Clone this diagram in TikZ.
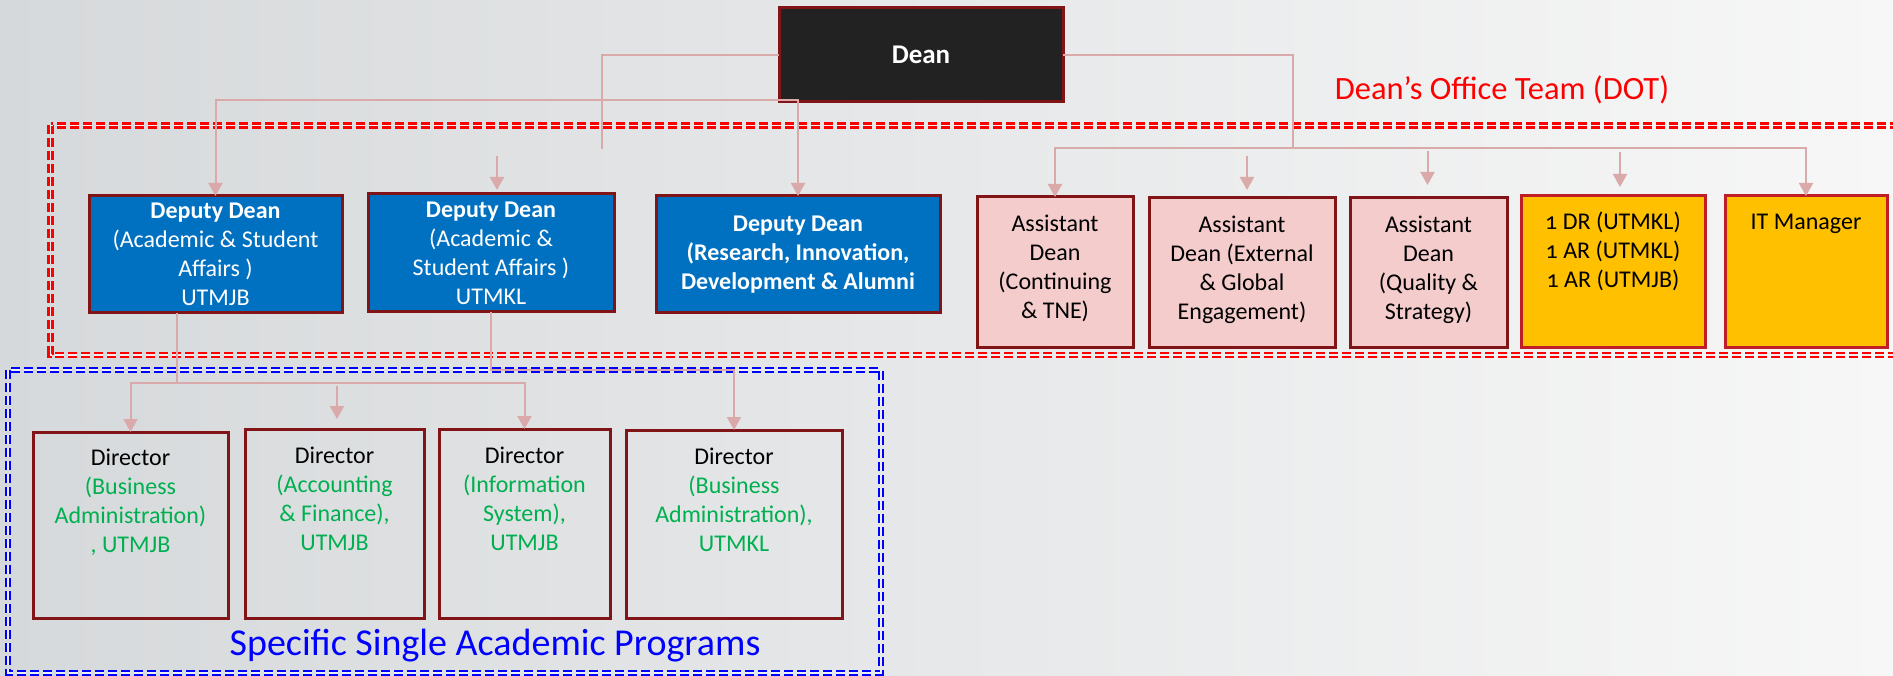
\documentclass[tikz,border=0pt]{standalone}
\usepackage{fontspec}
\setmainfont{Carlito}
\newfontfamily\osfont[Numbers=OldStyle]{Carlito}
\usetikzlibrary{arrows.meta}
\definecolor{bgL}{RGB}{214,217,219}
\definecolor{bgR}{RGB}{247,247,247}
\definecolor{bgmid}{RGB}{238,239,240}
\definecolor{bord}{RGB}{128,20,22}
\definecolor{yelbord}{RGB}{192,30,38}
\definecolor{ddblue}{RGB}{0,112,192}
\definecolor{adpink}{RGB}{244,204,204}
\definecolor{yel}{RGB}{255,192,0}
\definecolor{conn}{RGB}{218,170,170}
\definecolor{grn}{RGB}{0,176,80}
\definecolor{dotred}{RGB}{255,0,0}
\definecolor{ssblue}{RGB}{0,0,255}
\definecolor{deanfill}{RGB}{34,34,34}
\newcommand{\gtxt}[1]{\textcolor{grn}{#1}}
\tikzset{
  boxbase/.style={draw=bord, line width=3pt, inner sep=0pt, outer sep=0pt, anchor=north west, align=center,
    font=\fontsize{24}{29}\selectfont},
  deanbox/.style={boxbase, fill=deanfill, text=white, font=\fontsize{27}{32}\selectfont\bfseries},
  ddbox/.style={boxbase, fill=ddblue, text=white},
  adbox/.style={boxbase, fill=adpink},
  ylbox/.style={boxbase, draw=yelbord, fill=yel},
  dirbox/.style={boxbase},
  boxtext/.style={anchor=north, inner sep=0pt, align=center, font=\fontsize{24}{29}\selectfont},
  cline/.style={draw=conn, line width=2pt},
  arr/.tip={Triangle[length=13pt,width=14pt]},
  dblred/.style={draw=dotred, line width=2.6pt, double=bgmid, double distance=1.6pt, dash pattern=on 9pt off 4pt},
  dblblue/.style={draw=ssblue, line width=2.6pt, double=bgmid, double distance=1.6pt, dash pattern=on 9pt off 4pt},
}
\begin{document}
\begin{tikzpicture}[x=1pt,y=-1pt]
\useasboundingbox (0,0) rectangle (1893,676);
\clip (0,0) rectangle (1893,676);
\shade[left color=bgL, right color=bgR] (0,0) rectangle (1893,676);

% team frames
\draw[dblred] (50.5,125.5) rectangle (1915,355);
\draw[dblblue] (8,370) rectangle (881,673);

% boxes
\node[deanbox, minimum width=284pt, minimum height=94pt] (dean) at (779,8) {Dean};

\node[ddbox, minimum width=253pt, minimum height=117pt] (dd1) at (89,196)
  {\textbf{Deputy Dean}\\(Academic \& Student\\Affairs )\\UTMJB};
\node[ddbox, minimum width=246pt, minimum height=118pt] (dd2) at (368,194)
  {\textbf{Deputy Dean}\\(Academic \&\\Student Affairs )\\UTMKL};
\node[ddbox, minimum width=284pt, minimum height=117pt, font=\fontsize{24}{29}\selectfont\bfseries] (dd3) at (656,196)
  {Deputy Dean\\(Research, Innovation,\\Development \& Alumni};

\node[adbox, minimum width=156pt, minimum height=150pt] (ad1) at (977,197) {};
\node[adbox, minimum width=186pt, minimum height=149pt] (ad2) at (1149,198) {};
\node[adbox, minimum width=157pt, minimum height=149pt] (ad3) at (1350,198) {};
\node[ylbox, minimum width=184pt, minimum height=151pt] (yl) at (1521,196) {};
\node[ylbox, minimum width=162pt, minimum height=151pt] (it) at (1725,196) {};

\node[boxtext] (ad1t) at ([yshift=-18pt]ad1.north) {Assistant\\Dean\\(Continuing\\\& TNE)};
\node[boxtext] (ad2t) at ([yshift=-18pt]ad2.north) {Assistant\\Dean (External\\\& Global\\Engagement)};
\node[boxtext] (ad3t) at ([yshift=-18pt]ad3.north) {Assistant\\Dean\\(Quality \&\\Strategy)};
\node[boxtext] (ylt) at ([yshift=-15.5pt]yl.north) {{\osfont 1} DR (UTMKL)\\{\osfont 1} AR (UTMKL)\\{\osfont 1} AR (UTMJB)};
\node[boxtext] (itt) at ([yshift=-17.5pt]it.north) {IT Manager};

\node[dirbox, minimum width=195pt, minimum height=186pt] (d1) at (33,432) {};
\node[dirbox, minimum width=179pt, minimum height=189pt] (d2) at (245,429) {};
\node[dirbox, minimum width=171pt, minimum height=189pt] (d3) at (439,429) {};
\node[dirbox, minimum width=216pt, minimum height=188pt] (d4) at (626,430) {};

\node[boxtext] (d1t) at ([yshift=-17pt]d1.north) {Director\\\gtxt{(Business}\\\gtxt{Administration)}\\\gtxt{, UTMJB}};
\node[boxtext] (d2t) at ([yshift=-18pt]d2.north) {Director\\\gtxt{(Accounting}\\\gtxt{\& Finance),}\\\gtxt{UTMJB}};
\node[boxtext] (d3t) at ([yshift=-18pt]d3.north) {Director\\\gtxt{(Information}\\\gtxt{System),}\\\gtxt{UTMJB}};
\node[boxtext] (d4t) at ([yshift=-17.5pt]d4.north) {Director\\\gtxt{(Business}\\\gtxt{Administration),}\\\gtxt{UTMKL}};

% connectors from the dean
\coordinate (jL) at (602,149);
\coordinate (hy) at (0,100);
\coordinate (jR) at (1293,148);
\draw[cline] (dean.west) -| (jL);
\draw[cline, arr-arr] (dd1.north) |- (hy -| dd3.north) -- (dd3.north);
\draw[cline] (dean.east) -| (jR);
\draw[cline, arr-arr] (ad1.north) |- (it.north |- jR) -- (it.north);

% loose arrows
\coordinate (dd2s) at (497,156); \coordinate (dd2e) at (497,190);
\draw[cline, -arr] (dd2s) -- (dd2e);
\coordinate (ad2s) at (1247,156); \coordinate (ad2e) at (1247,190);
\draw[cline, -arr] (ad2s) -- (ad2e);
\coordinate (ad3s) at (1427.5,151); \coordinate (ad3e) at (1427.5,185);
\draw[cline, -arr] (ad3s) -- (ad3e);
\coordinate (yls) at (1620,152); \coordinate (yle) at (1620,187);
\draw[cline, -arr] (yls) -- (yle);

% connectors to directors
\coordinate (jB1) at (177,383);
\draw[cline] (jB1 |- dd1.south) -- (jB1);
\draw[cline, arr-arr] (d1.north) |- (d3.north |- jB1) -- (d3.north);
\coordinate (d2s) at (337,386); \coordinate (d2e) at (337,419);
\draw[cline, -arr] (d2s) -- (d2e);
\coordinate (jB2) at (491,370);
\draw[cline, -arr] (dd2.south) |- (d4.north |- jB2) -- (d4.north);

% labels
\node[text=dotred, anchor=base, inner sep=0pt, font=\fontsize{32.5}{38}\selectfont] (dotlbl) at (1502,100) {Dean’s Office Team (DOT)};
\node[text=ssblue, anchor=base, inner sep=0pt, font=\fontsize{38}{44}\selectfont] (sslbl) at (495,655) {Specific Single Academic Programs};
\end{tikzpicture}
\end{document}
